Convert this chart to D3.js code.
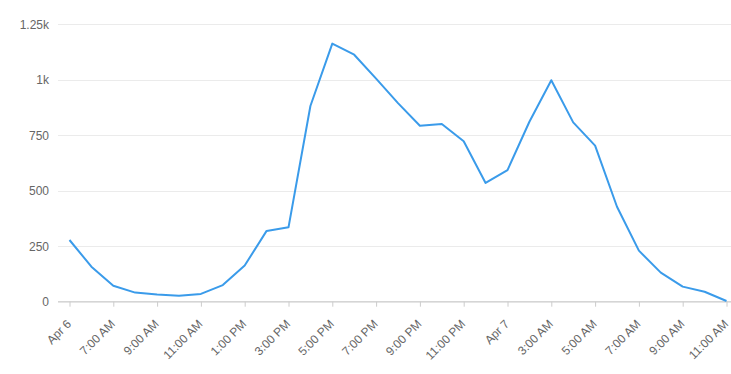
<!DOCTYPE html>
<html>
<head>
<meta charset="utf-8">
<script src="https://cdn.jsdelivr.net/npm/d3@7"></script>
<style>
  body { margin: 0; background: #fff; }
  svg { display: block; font-family: "Liberation Sans", Arial, sans-serif; }
  .tick text { fill: #666; font-size: 12px; }
</style>
</head>
<body>
<div id="main"></div>
<script>
// hourly counts, Apr 6 (first tick) to 11:00 AM next day
let hours = d3.range(31);
let counts = [278, 158, 72, 41, 32, 27, 35, 75, 163, 319, 335, 882, 1163, 1113, 1005, 895,
	793, 801, 723, 535, 593, 811, 998, 808, 703, 428, 230, 131, 68, 45, 3];
let tickLabels = ['Apr 6', '7:00 AM', '9:00 AM', '11:00 AM', '1:00 PM', '3:00 PM', '5:00 PM',
	'7:00 PM', '9:00 PM', '11:00 PM', 'Apr 7', '3:00 AM', '5:00 AM', '7:00 AM', '9:00 AM', '11:00 AM'];
let yTicks = [0, 250, 500, 750, 1000, 1250];
let yLabels = ['0', '250', '500', '750', '1k', '1.25k'];

let width = 731, height = 374;
let left = 58, plotTop = 24.3, plotBottom = 301.7;

let x = d3.scaleLinear().domain([0, 30]).range([69.5, 726.5]);
let y = d3.scaleLinear().domain([0, 1250]).range([plotBottom, plotTop]);

let svg = d3.select('#main').append('svg')
	.attr('width', width)
	.attr('height', height);

// grid + y labels
let yAxis = svg.append('g')
	.attr('transform', 'translate(' + left + ',0)')
	.call(d3.axisLeft(y).tickValues(yTicks).tickSize(-(width - left)).tickPadding(9)
		.tickFormat((d, i) => yLabels[i]));
yAxis.select('.domain').remove();
yAxis.selectAll('.tick line').attr('stroke', '#ebebeb').attr('shape-rendering', 'crispEdges');

// x axis
let xAxis = svg.append('g')
	.attr('transform', 'translate(0,' + plotBottom + ')')
	.call(d3.axisBottom(x).tickValues(d3.range(0, 31, 2)).tickSize(5).tickSizeOuter(0)
		.tickFormat((d, i) => tickLabels[i]));
xAxis.select('.domain')
	.attr('d', 'M' + left + ',0H' + width)
	.attr('stroke', '#ccc');
xAxis.selectAll('.tick line').attr('stroke', '#ccc');
xAxis.selectAll('.tick text')
	.attr('text-anchor', 'end')
	.attr('dy', null)
	.attr('y', 0)
	.attr('transform', 'translate(2,23) rotate(-45)');

// line
let line = d3.line()
	.x((d, i) => x(hours[i]))
	.y(d => y(d));

svg.append('path')
	.datum(counts)
	.attr('fill', 'none')
	.attr('stroke', '#3a9bea')
	.attr('stroke-width', 2)
	.attr('stroke-linejoin', 'round')
	.attr('d', line);
</script>
</body>
</html>
